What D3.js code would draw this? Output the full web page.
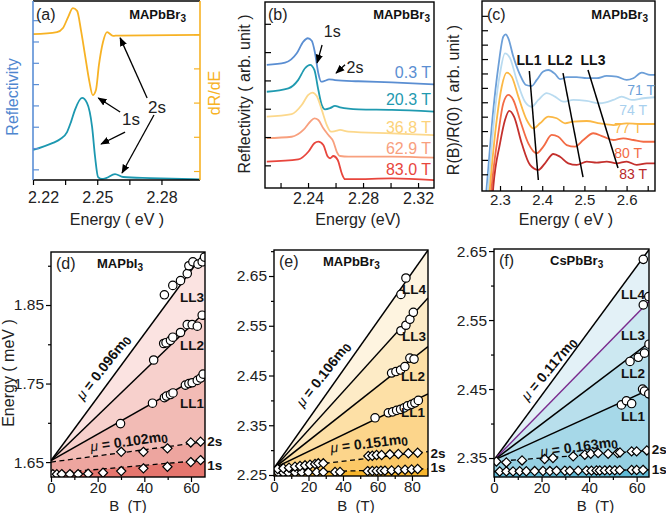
<!DOCTYPE html>
<html><head><meta charset="utf-8">
<script src="https://cdn.jsdelivr.net/npm/d3@7"></script>
<style>
body{margin:0;background:#fff}
svg{display:block}
</style></head><body>
<svg id="fig" width="666" height="513"></svg>
<script>
// ================= DATA =================
// (a) reflectivity and derivative, [energy eV, arb]
const aReflectivity = [[2.2200,1.41],[2.2293,1.74],[2.2326,1.91],[2.2359,2.25],[2.2378,2.74],[2.2396,3.29],[2.2429,3.85],[2.2452,3.62],[2.2476,2.49],[2.2490,1.08],[2.2504,0.14],[2.2522,0.05],[2.2541,0.09],[2.2583,0.28],[2.2621,0.14],[2.2747,0.09],[2.2980,0.03]];
const aDerivative = [[2.2200,4.00],[2.2312,4.06],[2.2340,4.18],[2.2364,4.50],[2.2386,4.76],[2.2406,4.68],[2.2424,4.12],[2.2443,3.39],[2.2462,2.66],[2.2479,2.22],[2.2494,2.37],[2.2508,3.10],[2.2527,3.77],[2.2546,4.06],[2.2574,3.95],[2.2597,3.96],[2.2980,3.98]];
const aXTicks = [2.22,2.235,2.25,2.265,2.28];
const aXLabels = [2.22,2.25,2.28];

// (b) reflectivity vs field
const bFields = ["0.3 T","20.3 T","36.8 T","62.9 T","83.0 T"];
const b03 = [[2.2100,4.35],[2.2233,4.43],[2.2318,4.76],[2.2366,5.17],[2.2398,5.29],[2.2427,5.20],[2.2451,4.76],[2.2475,4.05],[2.2495,3.76],[2.2519,3.78],[2.2553,3.84],[2.2596,3.81],[2.2766,3.77],[2.3009,3.73],[2.3319,3.66]];
const b203 = [[2.2100,3.40],[2.2257,3.52],[2.2329,3.82],[2.2378,4.23],[2.2415,4.35],[2.2446,4.17],[2.2475,3.46],[2.2500,2.93],[2.2524,2.78],[2.2560,2.82],[2.2596,2.90],[2.2633,2.85],[2.2766,2.78],[2.3009,2.76],[2.3319,2.70]];
const b368 = [[2.2100,2.52],[2.2281,2.61],[2.2354,2.93],[2.2402,3.29],[2.2431,3.37],[2.2463,3.25],[2.2500,2.76],[2.2536,2.23],[2.2567,1.99],[2.2596,2.01],[2.2633,2.05],[2.2693,1.99],[2.3009,1.93],[2.3319,1.87]];
const b629 = [[2.2100,1.76],[2.2281,1.81],[2.2366,2.05],[2.2415,2.34],[2.2446,2.46],[2.2475,2.40],[2.2511,2.11],[2.2548,1.87],[2.2584,1.64],[2.2609,1.28],[2.2633,1.13],[2.2693,1.11],[2.3009,1.11],[2.3319,1.07]];
const b830 = [[2.2100,0.93],[2.2329,1.01],[2.2402,1.28],[2.2446,1.58],[2.2475,1.64],[2.2511,1.52],[2.2543,1.11],[2.2560,1.05],[2.2584,1.13],[2.2616,0.99],[2.2645,0.52],[2.2669,0.31],[2.2718,0.31],[2.3009,0.34],[2.3319,0.28]];
const bXTicks = [2.22,2.24,2.26,2.28,2.30,2.32];
const bXLabels = [2.24,2.28,2.32];

// (c) R(B)/R(0)
const cFields = ["71 T","74 T","77 T","80 T","83 T"];
const c71 = [[2.265,-1],[2.2685,0.14],[2.2841,5.47],[2.2960,8.47],[2.3078,10.56],[2.3135,10.72],[2.3197,10.44],[2.3315,9.17],[2.3474,7.90],[2.3616,7.20],[2.3751,7.13],[2.3870,7.55],[2.4026,8.13],[2.4145,8.24],[2.4303,7.97],[2.4422,7.60],[2.4581,7.74],[2.4818,7.74],[2.5055,7.67],[2.5292,7.67],[2.5528,7.83],[2.5765,7.78],[2.6002,7.55],[2.6159,7.67],[2.6358,8.06],[2.6555,7.90],[2.6673,7.90]];
const c74 = [[2.269,-1],[2.2723,0.14],[2.2882,5.47],[2.3000,8.01],[2.3118,9.40],[2.3237,9.06],[2.3396,7.55],[2.3592,6.04],[2.3751,5.69],[2.3908,6.16],[2.4107,6.63],[2.4303,6.39],[2.4500,6.04],[2.4737,6.16],[2.5055,6.09],[2.5370,5.93],[2.5685,6.16],[2.5884,6.39],[2.6121,6.16],[2.6396,6.28],[2.6673,6.35]];
const c77 = [[2.273,-1],[2.2763,0.14],[2.2922,4.77],[2.3040,7.08],[2.3159,8.06],[2.3277,7.78],[2.3434,6.39],[2.3633,4.77],[2.3789,4.19],[2.3948,4.54],[2.4145,5.00],[2.4344,4.89],[2.4540,4.54],[2.4737,4.65],[2.5055,4.70],[2.5370,4.54],[2.5685,4.42],[2.6002,4.54],[2.6318,4.49],[2.6673,4.49]];
const c80 = [[2.277,-1],[2.2803,0.14],[2.2960,3.85],[2.3078,5.93],[2.3197,6.51],[2.3315,6.16],[2.3474,4.77],[2.3671,3.15],[2.3870,2.46],[2.4026,2.92],[2.4225,3.73],[2.4382,3.61],[2.4581,3.03],[2.4777,2.92],[2.4974,3.38],[2.5211,3.85],[2.5448,3.61],[2.5685,3.38],[2.5922,3.50],[2.6159,3.38],[2.6396,3.26],[2.6673,3.26]];
const c83 = [[2.281,-1],[2.2841,0.14],[2.3000,3.15],[2.3118,4.77],[2.3220,5.40],[2.3332,5.00],[2.3514,3.15],[2.3711,1.65],[2.3908,1.30],[2.4066,1.76],[2.4263,2.41],[2.4422,2.22],[2.4618,1.76],[2.4818,1.65],[2.5055,1.88],[2.5292,1.81],[2.5528,1.88],[2.5765,1.76],[2.6002,1.88],[2.6239,1.65],[2.6476,1.76],[2.6673,1.76]];
const cLL1 = [[2.3695,8.17],[2.3908,0.60]];
const cLL2 = [[2.4493,8.03],[2.4967,0.81]];
const cLL3 = [[2.5085,8.24],[2.5796,1.44]];
const cXTicks = [2.3,2.35,2.4,2.45,2.5,2.55,2.6,2.65];
const cXLabels = [2.3,2.4,2.5,2.6];

// (d) MAPbI3 fan chart, [B (T), E]
const dLL1 = [[29.8,1.699],[43.5,1.725],[48.6,1.732],[49.5,1.734],[51.2,1.736],[52.3,1.738],[57.6,1.748],[59.1,1.750],[60.5,1.751],[62.7,1.754],[64.1,1.757],[65.2,1.762]];
const dLL2 = [[44.0,1.780],[48.3,1.801],[49.3,1.802],[51.2,1.805],[52.2,1.809],[55.5,1.815],[58.4,1.825],[60.5,1.825],[62.7,1.823],[64.8,1.837]];
const dLL3 = [[48.6,1.863],[52.2,1.875],[55.5,1.881],[58.4,1.890],[59.1,1.900],[60.8,1.905],[63.0,1.902],[64.8,1.905],[65.8,1.911]];
const d2s = [[30.1,1.663],[39.6,1.663],[49.9,1.6675],[59.9,1.675],[64.1,1.676]];
const d1s = [[0.8,1.6345],[2.5,1.6345],[4.6,1.6347],[8.1,1.6347],[11.6,1.6347],[15.9,1.6351],[22.3,1.6364],[30.1,1.6385],[39.6,1.642],[49.9,1.644],[59.9,1.650],[64.1,1.6525]];
const dFitLines = [ // [B,E] end points, top to bottom
  {name:"LL3", pts:[[0,1.652],[66,1.918]]},
  {name:"LL2", pts:[[0,1.652],[66,1.841]]},
  {name:"LL1", pts:[[0,1.652],[66,1.763]]},
  {name:"2s",  pts:[[0,1.650],[66,1.676]], dash:true},
  {name:"1s",  pts:[[0,1.6356],[66,1.6525]], dash:true}
];
const dYTicks = [1.65,1.75,1.85], dYMinor = [1.70,1.80,1.90];

// (e) MAPbBr3 fan chart
const eLL1 = [[58.6,2.365],[66.3,2.375],[68.8,2.377],[71.1,2.380],[73.4,2.382],[75.5,2.385],[77.4,2.389],[79.8,2.392],[81.7,2.395],[83.7,2.400]];
const eLL2 = [[68.2,2.455],[70.7,2.458],[73.4,2.461],[75.9,2.468],[78.8,2.485],[81.2,2.483]];
const eLL3 = [[73.6,2.540],[76.5,2.551],[78.8,2.563],[80.8,2.577]];
const eLL4 = [[73.6,2.613],[76.5,2.646]];
const e2s = [[2.1,2.2621],[5.4,2.2635],[8.7,2.2647],[12.2,2.2667],[15.1,2.2681],[18.0,2.2695],[20.9,2.2707],[23.8,2.2721],[25.7,2.2735],[28.6,2.2735],[54.7,2.2882],[57.0,2.2888],[59.5,2.2902],[62.4,2.2902],[67.2,2.2916],[72.1,2.2922],[77.9,2.2936],[83.3,2.2948]];
const e1s = [[2.5,2.2545],[5.4,2.2546],[8.3,2.2548],[12.2,2.2550],[16.1,2.2552],[19.9,2.2554],[24.7,2.2556],[28.6,2.2558],[35.4,2.2560],[38.3,2.2562],[54.3,2.2578],[57.0,2.2580],[59.5,2.2582],[62.0,2.2585],[64.3,2.2588],[68.2,2.2592],[72.1,2.2597],[76.0,2.2605],[79.8,2.2612],[83.3,2.2620]];
const eFitLines = [
  {name:"LL4", pts:[[0,2.264],[89.3,2.702]]},
  {name:"LL3", pts:[[0,2.264],[89.3,2.606]]},
  {name:"LL2", pts:[[0,2.264],[89.3,2.508]]},
  {name:"LL1", pts:[[0,2.264],[89.3,2.413]]},
  {name:"2s",  pts:[[0,2.262],[89.3,2.297]], dash:true},
  {name:"1s",  pts:[[0,2.254],[89.3,2.2625]], dash:true}
];
const eYTicks = [2.25,2.35,2.45,2.55,2.65], eYMinor = [2.30,2.40,2.50,2.60,2.70];

// (f) CsPbBr3 fan chart
const fLL1 = [[53.6,2.427],[55.7,2.433],[57.9,2.429],[62.5,2.450],[63.3,2.447],[65.1,2.443]];
const fLL2 = [[57.2,2.490],[60.7,2.496],[63.3,2.502],[65.2,2.515]];
const fLL3 = [[62.8,2.572],[65.1,2.584]];
const fLL4 = [[62.8,2.638]];
const f2s = [[1.0,2.3450],[5.2,2.3436],[11.8,2.3465],[21.3,2.3486],[24.8,2.3500],[33.3,2.3524],[38.2,2.3548],[40.7,2.3562],[43.8,2.3572],[48.0,2.3562],[52.0,2.3572],[53.0,2.3581],[57.9,2.3596],[60.0,2.3596],[64.3,2.3610]];
const f1s = [[2.4,2.3305],[5.2,2.3307],[8.0,2.3306],[10.8,2.3309],[13.6,2.3308],[17.1,2.3311],[20.6,2.3312],[23.5,2.3311],[26.3,2.3314],[29.8,2.3315],[31.9,2.3314],[35.4,2.3317],[38.9,2.3318],[41.0,2.3317],[43.1,2.3320],[44.5,2.3319],[46.6,2.3321],[48.7,2.3322],[50.8,2.3321],[52.9,2.3324],[57.9,2.3326],[60.0,2.3327],[62.7,2.3329]];
const fFitLines = [
  {name:"LL4", pts:[[0,2.347],[65.2,2.652]]},
  {name:"LL3", pts:[[0,2.347],[65.2,2.577]], color:"#7a2a8e"},
  {name:"LL2", pts:[[0,2.347],[65.2,2.517]]},
  {name:"LL1", pts:[[0,2.347],[65.2,2.449]]},
  {name:"2s",  pts:[[0,2.345],[65.2,2.361]], dash:true},
  {name:"1s",  pts:[[0,2.3305],[65.2,2.333]], dash:true}
];
const fYTicks = [2.35,2.45,2.55,2.65], fYMinor = [2.40,2.50,2.60];
const bTicks = [0,20,40,60], bMinor = [10,30,50];
const eBTicks = [0,20,40,60,80], eBMinor = [10,30,50,70];

// ================= DRAWING =================
const FF = "'Liberation Sans', Arial, Helvetica, sans-serif";
const svg = d3.select("#fig").style("font-family", FF);
const defs = svg.append("defs");
defs.append("marker").attr("id","arr").attr("viewBox","0 0 10 10").attr("refX",9).attr("refY",5)
  .attr("markerWidth",7).attr("markerHeight",7).attr("orient","auto")
  .append("path").attr("d","M0,1 L10,5 L0,9 Z").attr("fill","#000");

function clipFor(id,p){
  defs.append("clipPath").attr("id",id).append("rect")
    .attr("x",p.x0).attr("y",p.y0).attr("width",p.x1-p.x0).attr("height",p.y1-p.y0);
  return svg.append("g").attr("clip-path",`url(#${id})`);
}
function styleAxis(g,color){
  g.select(".domain").remove();
  g.selectAll("line").attr("stroke",color||"#000").attr("stroke-width",1.2);
  g.selectAll("text").attr("fill","#222").style("font-family",FF);
}
function frame(p,w){
  svg.append("rect").attr("x",p.x0).attr("y",p.y0).attr("width",p.x1-p.x0).attr("height",p.y1-p.y0)
    .attr("fill","none").attr("stroke","#000").attr("stroke-width",w||1.4);
}
function text(x,y,s,o){
  o=o||{};
  const t=svg.append("text").attr("x",x).attr("y",y).attr("font-size",o.size||16)
    .attr("text-anchor",o.anchor||"start").attr("dominant-baseline","central")
    .attr("fill",o.color||"#222").attr("font-weight",o.bold?"bold":"normal")
    .style("white-space","pre");
  if(s) t.text(s);
  if(o.rot!=null) t.attr("transform",`rotate(${o.rot},${x},${y})`);
  return t;
}
function chem(x,y,base,sub,o){
  const t=text(x,y,"",Object.assign({size:13,bold:true,color:"#111"},o));
  t.append("tspan").text(base);
  t.append("tspan").attr("font-size",(o&&o.subSize)||10).attr("dy",4).text(sub);
  return t;
}
function arrow(x1,y1,x2,y2){
  svg.append("line").attr("x1",x1).attr("y1",y1).attr("x2",x2).attr("y2",y2)
    .attr("stroke","#000").attr("stroke-width",1.3).attr("marker-end","url(#arr)");
}

// ---------- panel (a) ----------
{
  const p={x0:33,x1:200,y0:1,y1:180};
  const x=d3.scaleLinear().domain([2.22,2.298]).range([p.x0,p.x1]);
  const yL=d3.scaleLinear().domain([0,8.4]).range([p.y1,p.y0]);
  const yR=d3.scaleLinear().domain([-0.263,4.97]).range([p.y1,p.y0]);
  const g=clipFor("ca",p);
  g.append("path").datum(aDerivative).attr("fill","none").attr("stroke","#f7b224").attr("stroke-width",1.8)
    .attr("d",d3.line().x(d=>x(d[0])).y(d=>yR(d[1])).curve(d3.curveMonotoneX));
  g.append("path").datum(aReflectivity).attr("fill","none").attr("stroke","#1c98b0").attr("stroke-width",1.8)
    .attr("d",d3.line().x(d=>x(d[0])).y(d=>yL(d[1])).curve(d3.curveMonotoneX));
  styleAxis(svg.append("g").attr("transform",`translate(${p.x0},0)`)
    .call(d3.axisRight(yL).tickValues([0.5,1.5,2.5,3.5,4.5,5.5,6.5,7.5]).tickSize(6).tickFormat("")),"#5b8fd6");
  styleAxis(svg.append("g").attr("transform",`translate(${p.x1},0)`)
    .call(d3.axisLeft(yR).tickValues([0,1,2,3,4]).tickSize(6).tickFormat("")),"#f7b224");
  const ax=svg.append("g").attr("transform",`translate(0,${p.y1})`)
    .call(d3.axisBottom(x).tickValues(aXTicks).tickSize(5).tickPadding(7)
      .tickFormat(d=>aXLabels.some(v=>Math.abs(v-d)<1e-6)?d3.format(".2f")(d):""));
  styleAxis(ax); ax.selectAll("text").attr("font-size",16);
  ax.selectAll("text").filter(d=>Math.abs(d-2.22)<1e-6).attr("dx",10);
  svg.append("line").attr("x1",p.x0).attr("x2",p.x1).attr("y1",p.y0).attr("y2",p.y0).attr("stroke","#000").attr("stroke-width",1.6);
  svg.append("line").attr("x1",p.x0).attr("x2",p.x1).attr("y1",p.y1).attr("y2",p.y1).attr("stroke","#000").attr("stroke-width",1.4);
  svg.append("line").attr("x1",p.x0).attr("x2",p.x0).attr("y1",p.y0).attr("y2",p.y1).attr("stroke","#5b8fd6").attr("stroke-width",1.6);
  svg.append("line").attr("x1",p.x1).attr("x2",p.x1).attr("y1",p.y0).attr("y2",p.y1).attr("stroke","#f7b224").attr("stroke-width",1.6);
  text(36,14,"(a)",{size:16});
  chem(186,14,"MAPbBr","3",{anchor:"end"});
  text(12,97,"Reflectivity",{rot:-90,anchor:"middle",color:"#4f86cf",size:16});
  text(214,93,"dR/dE",{rot:-90,anchor:"middle",color:"#f7b224",size:16});
  text(117,219,"Energy ( eV )",{anchor:"middle",size:16});
  text(x(2.2658),yL(2.82),"1s",{anchor:"middle",size:17});
  text(x(2.2779),yL(3.38),"2s",{anchor:"middle",size:17});
  arrow(x(2.2607),yL(3.19),x(2.2505),yL(3.85));
  arrow(x(2.2630),yL(2.25),x(2.2518),yL(1.69));
  arrow(x(2.2733),yL(3.85),x(2.2607),yL(6.67));
  arrow(x(2.2765),yL(3.05),x(2.2616),yL(0.33));
}

// ---------- panel (b) ----------
{
  const p={x0:265,x1:434,y0:2,y1:188};
  const x=d3.scaleLinear().domain([2.2087,2.3316]).range([p.x0,p.x1]);
  const y=d3.scaleLinear().domain([0,6.57]).range([p.y1,p.y0]);
  const g=clipFor("cb",p);
  const curves=[b03,b203,b368,b629,b830];
  const cols=["#5a8ed2","#1f9ab0","#fcd88c","#f8a07e","#e8463d"];
  const line=d3.line().x(d=>x(d[0])).y(d=>y(d[1])).curve(d3.curveMonotoneX);
  curves.forEach((c,i)=>g.append("path").datum(c).attr("fill","none").attr("stroke",cols[i]).attr("stroke-width",1.8).attr("d",line));
  styleAxis(svg.append("g").attr("transform",`translate(${p.x0},0)`)
    .call(d3.axisRight(y).tickValues([0.8,1.8,2.8,3.8,4.8,5.8]).tickSize(6).tickFormat("")));
  const ax=svg.append("g").attr("transform",`translate(0,${p.y1})`)
    .call(d3.axisBottom(x).tickValues(bXTicks).tickSize(-5).tickPadding(5)
      .tickFormat(d=>bXLabels.some(v=>Math.abs(v-d)<1e-6)?d3.format(".2f")(d):""));
  styleAxis(ax); ax.selectAll("text").attr("font-size",16);
  frame(p);
  const labY=[72,99,127,148,169];
  bFields.forEach((f,i)=>text(431,labY[i],f,{anchor:"end",color:cols[i]==="#fcd88c"?"#fcd27a":cols[i],size:16}));
  text(268,14,"(b)",{size:16});
  chem(430,14,"MAPbBr","3",{anchor:"end"});
  text(244,94,"Reflectivity ( arb. unit )",{rot:-90,anchor:"middle",size:16});
  text(358,219,"Energy (eV)",{anchor:"middle",size:16});
  text(x(2.2576),y(5.52),"1s",{anchor:"middle",size:16});
  text(x(2.2742),y(4.27),"2s",{anchor:"middle",size:16});
  arrow(x(2.2502),y(5.05),x(2.2466),y(4.42));
  arrow(x(2.2669),y(4.35),x(2.2604),y(4.06));
}

// ---------- panel (c) ----------
{
  const p={x0:482,x1:655,y0:1,y1:191};
  const x=d3.scaleLinear().domain([2.2573,2.6673]).range([p.x0,p.x1]);
  const y=d3.scaleLinear().domain([-0.16,13.03]).range([p.y1,p.y0]);
  const g=clipFor("cc",p);
  const curves=[c71,c74,c77,c80,c83];
  const cols=["#6c9fd8","#b9dbf0","#fbb845","#f36b45","#c4302d"];
  const line=d3.line().x(d=>x(d[0])).y(d=>y(d[1])).curve(d3.curveMonotoneX);
  curves.forEach((c,i)=>g.append("path").datum(c).attr("fill","none").attr("stroke",cols[i]).attr("stroke-width",1.8).attr("d",line));
  const l2=d3.line().x(d=>x(d[0])).y(d=>y(d[1]));
  [cLL1,cLL2,cLL3].forEach(c=>g.append("path").datum(c).attr("fill","none").attr("stroke","#000").attr("stroke-width",1.5).attr("d",l2));
  styleAxis(svg.append("g").attr("transform",`translate(${p.x0},0)`)
    .call(d3.axisRight(y).tickValues(d3.range(1,13)).tickSize(6).tickFormat("")));
  const ax=svg.append("g").attr("transform",`translate(0,${p.y1})`)
    .call(d3.axisBottom(x).tickValues(cXTicks).tickSize(-5).tickPadding(3)
      .tickFormat(d=>cXLabels.some(v=>Math.abs(v-d)<1e-6)?d3.format(".1f")(d):""));
  styleAxis(ax); ax.selectAll("text").attr("font-size",15);
  frame(p);
  const labR=[655,647,642,642,647], labY=[90,110,128,153,174];
  const labCols=["#6c9fd8","#a8d0ee","#fbb845","#f36b45","#b8282a"];
  cFields.forEach((f,i)=>text(labR[i],labY[i],f,{anchor:"end",color:labCols[i],size:14}));
  ["LL1","LL2","LL3"].forEach((s,i)=>text([529,560,593][i],60,s,{anchor:"middle",bold:true,size:14,color:"#111"}));
  text(487,14,"(c)",{size:16});
  chem(648,14,"MAPbBr","3",{anchor:"end"});
  text(453,100,"R(B)/R(0) ( arb. unit )",{rot:-90,anchor:"middle",size:16});
  text(566,219,"Energy ( eV )",{anchor:"middle",size:16});
}

// ---------- fan-chart panels (d)(e)(f) ----------
const diamond="M0,-4.6L4.6,0L0,4.6L-4.6,0Z";
function fanPanel(cfg){
  const p=cfg.p;
  const x=d3.scaleLinear().domain(cfg.xd).range([p.x0,p.x1]);
  const y=d3.scaleLinear().domain(cfg.yd).range([p.y1,p.y0]);
  const g=clipFor(cfg.id,p);
  const lines=cfg.lines;
  const interp=(pts,b)=>pts[0][1]+(pts[1][1]-pts[0][1])*(b-pts[0][0])/(pts[1][0]-pts[0][0]);
  const bx=[cfg.xd[0],cfg.xd[1]];
  lines.forEach((ln,i)=>{
    const lower=lines[i+1];
    const area=d3.area().x(b=>x(b)).y1(b=>y(interp(ln.pts,b)))
      .y0(b=>lower?y(interp(lower.pts,b)):p.y1);
    g.append("path").datum(bx).attr("fill",cfg.bands[i]).attr("d",area);
  });
  const l2=d3.line().x(d=>x(d[0])).y(d=>y(d[1]));
  lines.forEach(ln=>{
    g.append("path").datum(ln.pts).attr("fill","none").attr("stroke",ln.color||"#000")
      .attr("stroke-width",ln.dash?1.3:1.5).attr("stroke-dasharray",ln.dash?"5,3.5":null).attr("d",l2);
  });
  cfg.diamonds.forEach(set=>set.forEach(d=>g.append("path").attr("d",diamond)
    .attr("transform",`translate(${x(d[0])},${y(d[1])})`).attr("fill","#fff").attr("stroke","#000").attr("stroke-width",1.2)));
  cfg.circles.forEach(set=>set.forEach(d=>g.append("circle").attr("cx",x(d[0])).attr("cy",y(d[1])).attr("r",4.2)
    .attr("fill","#fff").attr("stroke","#000").attr("stroke-width",1.2)));
  const yl=svg.append("g").attr("transform",`translate(${p.x0},0)`)
    .call(d3.axisLeft(y).tickValues(cfg.yt).tickSize(5).tickPadding(2).tickFormat(d3.format(".2f")));
  styleAxis(yl); yl.selectAll("text").attr("font-size",15.5);
  styleAxis(svg.append("g").attr("transform",`translate(${p.x0},0)`)
    .call(d3.axisLeft(y).tickValues(cfg.ym).tickSize(3).tickFormat("")));
  const xl=svg.append("g").attr("transform",`translate(0,${p.y1})`)
    .call(d3.axisBottom(x).tickValues(cfg.xt).tickSize(5).tickPadding(0).tickFormat(d3.format("d")));
  styleAxis(xl); xl.selectAll("text").attr("font-size",15);
  styleAxis(svg.append("g").attr("transform",`translate(0,${p.y1})`)
    .call(d3.axisBottom(x).tickValues(cfg.xm).tickSize(3).tickFormat("")));
  frame(p);
  cfg.lineLabels.forEach(l=>text(x(l.b),y(l.e),l.t,{anchor:l.anchor||"end",bold:true,size:13.5,color:"#111"}));
  cfg.mu.forEach(m=>{
    const t=text(x(m.b),y(m.e),"",{anchor:"middle",rot:m.rot,size:14,bold:true,color:"#111"});
    t.append("tspan").attr("font-style","italic").attr("font-weight","normal").text("\u03bc");
    t.append("tspan").text(" = "+m.v+"m");
    t.append("tspan").attr("dy",3).attr("font-size",12).text("0");
  });
  text(p.x0+5,p.y0+11,cfg.tag,{size:16});
  chem(cfg.chemX,p.y0+11,cfg.chem[0],cfg.chem[1],{anchor:"start"});
  text((p.x0+p.x1)/2+cfg.bdx,505,"B  (T)",{anchor:"middle",size:15});
  return {x,y};
}

fanPanel({id:"cd",p:{x0:51,x1:205,y0:252,y1:477},xd:[0,66],yd:[1.631,1.9175],
  lines:dFitLines,bands:["#fbe3e1","#f7d0cc","#f2bbb5","#eda59f","#e5766e"],
  diamonds:[d1s,d2s],circles:[dLL1,dLL2,dLL3],yt:dYTicks,ym:dYMinor,xt:bTicks,xm:bMinor,
  lineLabels:[{t:"LL3",b:65.6,e:1.860},{t:"LL2",b:65.6,e:1.799},{t:"LL1",b:65.6,e:1.725},
    {t:"2s",b:67.0,e:1.6767,anchor:"start"},{t:"1s",b:67.0,e:1.6462,anchor:"start"}],
  mu:[{b:22.3,e:1.771,rot:-52,v:"0.096"},{b:33.4,e:1.6768,rot:-8,v:"0.102"}],
  tag:"(d)",chem:["MAPbI","3"],chemX:97,bdx:0});
text(8,373,"Energy ( meV )",{rot:-90,anchor:"middle",size:16});

fanPanel({id:"ce",p:{x0:274,x1:428,y0:250,y1:476},xd:[0,89.3],yd:[2.248,2.7023],
  lines:eFitLines,bands:["#fef4e0","#fdebc6","#fde0a6","#fcd58b","#fbc866","#f7b52c"],
  diamonds:[e1s,e2s],circles:[eLL1,eLL2,eLL3,eLL4],yt:eYTicks,ym:eYMinor,xt:eBTicks,xm:eBMinor,
  lineLabels:[{t:"LL4",b:88.2,e:2.622},{t:"LL3",b:88.2,e:2.529},{t:"LL2",b:87.6,e:2.448},{t:"LL1",b:87.6,e:2.375},
    {t:"2s",b:90.8,e:2.2942,anchor:"start"},{t:"1s",b:90.8,e:2.2641,anchor:"start"}],
  mu:[{b:28.4,e:2.453,rot:-52,v:"0.106"},{b:55.1,e:2.3143,rot:-7,v:"0.151"}],
  tag:"(e)",chem:["MAPbBr","3"],chemX:323,bdx:5});

fanPanel({id:"cf",p:{x0:494,x1:649,y0:249,y1:477},xd:[0,65.2],yd:[2.3225,2.653],
  lines:fFitLines,bands:["#e3f1f7","#cce8f1","#b8dfec","#a6d8e8","#94cfe2","#60bad6"],
  diamonds:[f1s,f2s],circles:[fLL1,fLL2,fLL3,fLL4],yt:fYTicks,ym:fYMinor,xt:bTicks,xm:bMinor,
  lineLabels:[{t:"LL4",b:63.5,e:2.5867},{t:"LL3",b:63.5,e:2.5272},{t:"LL2",b:63.5,e:2.4722},{t:"LL1",b:63.5,e:2.4103},
    {t:"2s",b:66.4,e:2.362,anchor:"start"},{t:"1s",b:66.4,e:2.333,anchor:"start"}],
  mu:[{b:23.0,e:2.4794,rot:-50,v:"0.117"},{b:35.7,e:2.3668,rot:-8,v:"0.163"}],
  tag:"(f)",chem:["CsPbBr","3"],chemX:550,bdx:24});
</script></body></html>
